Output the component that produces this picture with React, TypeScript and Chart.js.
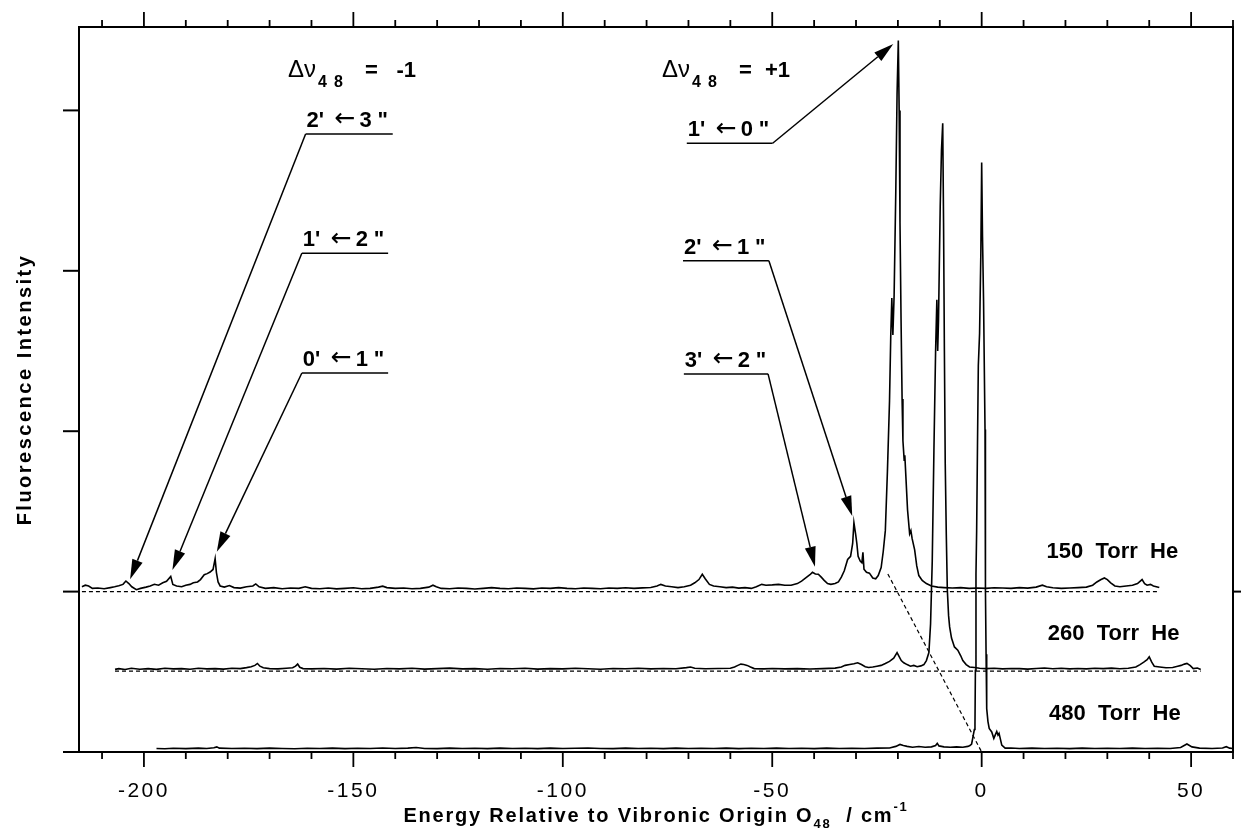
import React, { useEffect, useRef } from 'react';
import { Chart, registerables } from 'chart.js';

Chart.register(...registerables);

// ---------- axes ----------
const X_MIN = -215.5;
const X_MAX = 60;
const Y_MIN = 0;
const Y_MAX = 4.52;
const X_MAJOR_TICKS = [-200, -150, -100, -50, 0, 50];
const X_MINOR_STEP = 10;
const Y_TICKS = [0, 1, 2, 3, 4];
const Y_RIGHT_TICKS = [1];

const X_TITLE_MAIN = 'Energy Relative to Vibronic Origin O';
const X_TITLE_SUB = '48';
const X_TITLE_UNIT = '  / cm';
const X_TITLE_SUP = '-1';
const Y_TITLE = 'Fluorescence Intensity';

// ---------- trace offsets (stacked spectra) ----------
const OFFSET_150 = 1.0;
const OFFSET_260 = 0.504;
const OFFSET_480 = 0.01;

// ---------- spectra: [energy / cm-1, intensity above own baseline] ----------
const SPEC_150: [number, number][] = [
  [-214.8,0.030],[-214.0,0.040],[-213.2,0.035],[-212.3,0.020],[-211.0,0.022],[-209.5,0.018],[-208.0,0.025],[-207.0,0.030],
  [-206.0,0.036],[-205.0,0.045],[-204.3,0.066],[-203.6,0.050],[-202.9,0.030],[-201.8,0.012],[-200.8,0.020],[-199.5,0.028],
  [-198.5,0.035],[-197.5,0.046],[-196.5,0.040],[-195.5,0.055],[-194.6,0.064],[-193.6,0.095],[-193.1,0.045],[-192.2,0.035],
  [-191.0,0.030],[-190.0,0.040],[-189.0,0.045],[-188.2,0.055],[-187.2,0.060],[-186.5,0.075],[-185.6,0.105],[-184.9,0.112],
  [-184.2,0.122],[-183.5,0.138],[-183.0,0.205],[-182.7,0.120],[-182.3,0.060],[-181.8,0.035],[-180.8,0.028],[-179.6,0.038],
  [-178.5,0.025],[-177.0,0.022],[-175.5,0.030],[-174.0,0.035],[-173.3,0.048],[-172.5,0.030],[-171.0,0.020],[-169.0,0.025],
  [-167.0,0.018],[-165.0,0.022],[-163.0,0.020],[-161.5,0.030],[-160.0,0.020],[-158.0,0.018],[-156.0,0.022],[-154.0,0.017],
  [-152.0,0.020],[-150.0,0.024],[-148.0,0.018],[-146.0,0.020],[-144.0,0.028],[-143.0,0.034],[-142.0,0.025],[-140.0,0.020],
  [-138.0,0.022],[-136.0,0.018],[-134.0,0.020],[-132.0,0.028],[-131.0,0.040],[-130.2,0.030],[-129.0,0.020],[-127.0,0.018],
  [-125.0,0.022],[-123.0,0.020],[-121.0,0.016],[-119.0,0.020],[-117.0,0.025],[-115.0,0.020],[-113.0,0.018],[-111.0,0.022],
  [-109.0,0.020],[-107.0,0.017],[-105.0,0.022],[-103.0,0.020],[-101.0,0.025],[-99.0,0.020],[-97.0,0.018],[-95.0,0.022],
  [-93.0,0.020],[-91.0,0.018],[-89.0,0.022],[-87.0,0.020],[-85.0,0.024],[-83.0,0.020],[-81.0,0.023],[-79.0,0.026],
  [-77.5,0.035],[-76.6,0.045],[-75.5,0.035],[-74.0,0.030],[-72.5,0.025],[-71.0,0.030],[-69.5,0.040],[-68.5,0.055],
  [-67.5,0.075],[-66.7,0.108],[-66.0,0.080],[-65.0,0.045],[-64.0,0.035],[-62.5,0.030],[-61.0,0.025],[-59.5,0.028],
  [-58.0,0.022],[-56.5,0.025],[-55.0,0.020],[-53.8,0.030],[-52.5,0.045],[-51.5,0.040],[-50.0,0.042],[-48.5,0.045],
  [-47.0,0.040],[-45.5,0.040],[-44.0,0.050],[-43.0,0.065],[-42.0,0.085],[-41.0,0.105],[-40.4,0.120],[-39.7,0.110],
  [-39.0,0.108],[-38.3,0.090],[-37.6,0.070],[-36.8,0.050],[-36.0,0.045],[-35.0,0.050],[-34.2,0.060],[-33.5,0.090],
  [-32.8,0.130],[-32.0,0.200],[-31.3,0.220],[-30.8,0.300],[-30.5,0.430],[-30.1,0.360],[-29.8,0.300],[-29.5,0.220],
  [-29.0,0.190],[-28.6,0.180],[-28.35,0.245],[-28.1,0.140],[-27.5,0.120],[-26.8,0.115],[-26.0,0.085],[-25.3,0.080],
  [-24.7,0.100],[-24.0,0.150],[-23.5,0.250],[-23.0,0.380],[-22.5,0.750],[-22.0,1.190],[-21.7,1.600],[-21.45,1.830],
  [-21.2,1.600],[-20.9,1.850],[-20.5,2.500],[-20.2,3.100],[-19.9,3.435],[-19.7,3.000],[-19.5,2.300],[-19.25,1.700],
  [-19.0,1.200],[-18.8,0.940],[-18.5,0.820],[-18.35,0.850],[-18.1,0.720],[-17.7,0.510],[-17.2,0.360],[-16.9,0.380],
  [-16.6,0.330],[-16.0,0.260],[-15.5,0.160],[-15.0,0.100],[-14.2,0.070],[-13.2,0.050],[-12.0,0.035],[-10.5,0.028],
  [-9.0,0.025],[-7.0,0.022],[-5.0,0.025],[-3.0,0.020],[-1.0,0.022],[1.0,0.020],[3.0,0.024],[5.0,0.022],
  [7.0,0.020],[9.0,0.025],[11.0,0.022],[13.0,0.028],[14.5,0.040],[15.5,0.030],[17.0,0.024],[19.0,0.020],
  [21.0,0.022],[23.0,0.025],[25.0,0.028],[26.5,0.040],[27.5,0.060],[28.5,0.075],[29.3,0.085],[30.0,0.075],
  [30.8,0.055],[31.8,0.035],[33.0,0.030],[34.5,0.035],[36.0,0.040],[37.2,0.050],[38.3,0.075],[38.9,0.050],
  [39.5,0.040],[40.3,0.045],[41.0,0.035],[42.4,0.025],
];

const SPEC_260: [number, number][] = [
  [-206.9,0.011],[-206.0,0.016],[-204.5,0.010],[-203.0,0.018],[-201.0,0.012],[-199.0,0.016],[-197.0,0.011],[-195.0,0.018],
  [-193.0,0.014],[-191.0,0.016],[-189.0,0.012],[-187.0,0.018],[-185.0,0.014],[-183.0,0.016],[-181.0,0.013],[-179.0,0.018],
  [-177.0,0.016],[-175.5,0.022],[-174.4,0.028],[-173.5,0.036],[-172.9,0.048],[-172.3,0.031],[-171.5,0.021],[-170.0,0.016],
  [-168.0,0.014],[-166.0,0.018],[-164.5,0.021],[-163.8,0.031],[-163.3,0.044],[-162.8,0.024],[-162.0,0.016],[-160.0,0.014],
  [-157.0,0.017],[-154.0,0.013],[-151.0,0.018],[-148.0,0.015],[-145.0,0.012],[-142.0,0.017],[-139.0,0.014],[-136.0,0.018],
  [-133.0,0.013],[-130.0,0.016],[-127.0,0.019],[-124.0,0.014],[-121.0,0.016],[-118.0,0.012],[-115.0,0.017],[-112.0,0.015],
  [-109.0,0.018],[-106.0,0.013],[-103.0,0.016],[-100.0,0.014],[-97.0,0.018],[-94.0,0.015],[-91.0,0.012],[-88.0,0.017],
  [-85.0,0.015],[-82.0,0.018],[-79.0,0.014],[-76.0,0.017],[-73.0,0.015],[-70.5,0.022],[-69.5,0.026],[-68.5,0.018],
  [-66.0,0.015],[-63.0,0.017],[-60.0,0.018],[-59.0,0.026],[-58.2,0.036],[-57.5,0.044],[-56.8,0.041],[-56.0,0.036],
  [-55.2,0.026],[-54.3,0.016],[-52.0,0.014],[-50.0,0.017],[-47.0,0.014],[-44.0,0.016],[-41.0,0.013],[-38.0,0.016],
  [-35.0,0.019],[-33.5,0.026],[-32.6,0.036],[-31.5,0.041],[-30.5,0.046],[-29.6,0.052],[-28.7,0.041],[-27.8,0.028],
  [-27.0,0.023],[-26.0,0.026],[-25.0,0.031],[-24.0,0.036],[-23.0,0.048],[-22.0,0.061],[-21.0,0.081],[-20.2,0.116],
  [-19.7,0.091],[-19.2,0.066],[-18.6,0.052],[-17.8,0.041],[-17.0,0.031],[-16.2,0.036],[-15.4,0.028],[-14.5,0.033],
  [-13.8,0.041],[-13.2,0.066],[-12.6,0.116],[-12.2,0.296],[-11.8,0.686],[-11.4,1.376],[-11.0,1.996],[-10.7,2.316],
  [-10.5,1.996],[-10.3,2.196],[-9.9,2.896],[-9.6,3.246],[-9.3,3.416],[-9.1,2.796],[-8.9,1.996],[-8.7,1.296],
  [-8.45,0.856],[-8.2,0.506],[-7.9,0.346],[-7.65,0.276],[-7.2,0.206],[-6.5,0.151],[-5.7,0.131],[-5.0,0.096],
  [-4.5,0.066],[-3.7,0.041],[-2.9,0.026],[-1.7,0.023],[-0.5,0.018],[1.0,0.016],[3.0,0.018],[5.0,0.014],
  [7.0,0.017],[9.0,0.016],[11.0,0.013],[13.0,0.017],[15.0,0.020],[17.0,0.015],[19.0,0.018],[21.0,0.014],
  [23.0,0.017],[25.0,0.014],[27.0,0.018],[29.0,0.016],[31.0,0.019],[33.0,0.015],[35.0,0.018],[36.8,0.026],
  [37.8,0.041],[38.7,0.056],[39.5,0.071],[40.0,0.089],[40.6,0.056],[41.2,0.031],[42.5,0.026],[44.0,0.021],
  [45.6,0.023],[46.8,0.031],[47.6,0.036],[48.4,0.044],[49.0,0.048],[49.8,0.034],[50.5,0.016],[51.5,0.020],
  [52.3,0.011],
];

const SPEC_480: [number, number][] = [
  [-197.0,0.012],[-195.0,0.010],[-193.0,0.013],[-190.0,0.011],[-187.0,0.014],[-185.0,0.012],[-183.3,0.016],[-182.6,0.022],
  [-182.0,0.014],[-179.0,0.012],[-176.0,0.013],[-173.0,0.011],[-170.0,0.014],[-167.0,0.012],[-164.0,0.010],[-161.0,0.013],
  [-158.0,0.012],[-155.0,0.014],[-152.0,0.011],[-149.0,0.013],[-146.0,0.012],[-143.0,0.015],[-140.0,0.012],[-137.0,0.014],
  [-135.0,0.018],[-133.0,0.012],[-130.0,0.011],[-127.0,0.014],[-124.0,0.012],[-121.0,0.013],[-118.0,0.011],[-115.0,0.014],
  [-112.0,0.012],[-109.0,0.013],[-106.0,0.011],[-103.0,0.014],[-100.0,0.012],[-97.0,0.013],[-94.0,0.015],[-91.0,0.012],
  [-88.0,0.011],[-85.0,0.014],[-82.0,0.012],[-79.0,0.013],[-76.0,0.011],[-73.0,0.014],[-70.0,0.012],[-67.0,0.013],
  [-64.0,0.012],[-61.0,0.014],[-58.0,0.011],[-55.0,0.013],[-52.0,0.012],[-49.0,0.014],[-46.0,0.012],[-43.0,0.013],
  [-40.0,0.011],[-37.0,0.014],[-34.0,0.012],[-31.0,0.013],[-28.0,0.012],[-25.0,0.014],[-22.0,0.015],[-20.5,0.025],
  [-19.5,0.037],[-18.7,0.030],[-17.8,0.025],[-16.5,0.020],[-15.0,0.024],[-13.5,0.020],[-12.0,0.022],[-11.0,0.030],
  [-10.6,0.044],[-10.2,0.028],[-9.0,0.022],[-7.5,0.020],[-6.0,0.022],[-4.5,0.020],[-3.3,0.025],[-2.8,0.030],
  [-2.4,0.040],[-2.0,0.095],[-1.75,0.130],[-1.6,0.160],[-1.5,0.500],[-1.36,1.100],[-1.2,1.370],[-1.0,1.900],
  [-0.8,2.400],[-0.5,2.600],[-0.2,3.100],[0.0,3.665],[0.2,3.200],[0.45,2.800],[0.8,2.000],[0.9,1.000],
  [1.05,0.600],[1.2,0.260],[1.5,0.180],[1.8,0.137],[2.4,0.115],[2.9,0.075],[3.3,0.100],[3.6,0.118],
  [3.9,0.095],[4.15,0.106],[4.8,0.033],[5.6,0.014],[7.0,0.015],[9.0,0.012],[12.0,0.014],[15.0,0.012],
  [18.0,0.013],[21.0,0.011],[24.0,0.014],[27.0,0.012],[30.0,0.013],[33.0,0.012],[36.0,0.014],[39.0,0.012],
  [42.0,0.013],[45.0,0.012],[47.5,0.018],[49.0,0.040],[50.2,0.022],[52.0,0.014],[55.0,0.012],[57.5,0.015],
  [58.4,0.023],[59.2,0.014],[60.0,0.012],
];

// ---------- reference (dashed) lines ----------
const BASE_150_RANGE = [-214.8, 42.4];
const BASE_260_RANGE = [-206.9, 52.3];
const SHIFT_LINE: [number, number][] = [[-22.4, 1.11], [0, 0]];

// ---------- annotations ----------
const TRACE_LABELS = ['150  Torr  He', '260  Torr  He', '480  Torr  He'];
const TRACE_LABEL_POS: [number, number][] = [[31.2, 1.249], [31.5, 0.736], [31.8, 0.237]];

const HEADINGS = ['-1', '+1'];
const HEADING_POS: [number, number][] = [[-165.6, 4.208], [-76.3, 4.208]];

// transition labels: upper level, lower level
const TRANSITION_UPPER = ["2'", "1'", "0'", "1'", "2'", "3'"];
const TRANSITION_LOWER = ['3', '2', '1', '0', '1', '2'];
// underline [x1, x2, y]
const TRANSITION_UNDERLINE: [number, number, number][] = [
  [-161.4, -140.6, 3.853], [-162.3, -141.7, 3.109], [-162.3, -141.7, 2.363],
  [-70.4, -49.9, 3.795], [-71.3, -50.8, 3.063], [-71.1, -51.0, 2.357],
];
const TRANSITION_FROM_LEFT = [true, true, true, false, false, false];
const TRANSITION_TIP: [number, number][] = [
  [-203.3, 1.077], [-193.2, 1.135], [-182.6, 1.249],
  [-21.1, 4.414], [-30.9, 1.471], [-39.8, 1.155],
];

const FONT = '"Liberation Sans", Arial, Helvetica, sans-serif';
const SYMBOL_FONT = '"DejaVu Sans", sans-serif';

function drawArrow(ctx: CanvasRenderingContext2D, x1: number, y1: number, x2: number, y2: number) {
  const len = 20;
  const half = 5.5;
  const ang = Math.atan2(y2 - y1, x2 - x1);
  const bx = x2 - len * Math.cos(ang);
  const by = y2 - len * Math.sin(ang);
  ctx.beginPath();
  ctx.moveTo(x1, y1);
  ctx.lineTo(bx, by);
  ctx.stroke();
  ctx.beginPath();
  ctx.moveTo(x2, y2);
  ctx.lineTo(bx + half * Math.sin(ang), by - half * Math.cos(ang));
  ctx.lineTo(bx - half * Math.sin(ang), by + half * Math.cos(ang));
  ctx.closePath();
  ctx.fill();
}

const decorPlugin = {
  id: 'decor',
  beforeDraw(chart: any) {
    chart.ctx.letterSpacing = '2.5px';
  },
  beforeDatasetsDraw(chart: any) {
    chart.ctx.letterSpacing = '0px';
  },
  afterDraw(chart: any) {
    const ctx: CanvasRenderingContext2D = chart.ctx;
    const ca = chart.chartArea;
    const xs = chart.scales.x;
    const ys = chart.scales.y;
    const px = (v: number) => xs.getPixelForValue(v);
    const py = (v: number) => ys.getPixelForValue(v);
    ctx.save();
    ctx.strokeStyle = '#000';
    ctx.fillStyle = '#000';
    (ctx as any).letterSpacing = '0px';

    // frame
    ctx.lineWidth = 2;
    ctx.strokeRect(ca.left, ca.top, ca.right - ca.left, ca.bottom - ca.top);

    // x ticks (bottom outward, top outward)
    ctx.lineWidth = 1.8;
    for (let v = Math.ceil(X_MIN / X_MINOR_STEP) * X_MINOR_STEP; v <= X_MAX; v += X_MINOR_STEP) {
      const L = X_MAJOR_TICKS.includes(v) ? 15 : 7;
      const xp = px(v);
      ctx.beginPath();
      ctx.moveTo(xp, ca.bottom);
      ctx.lineTo(xp, ca.bottom + L);
      ctx.moveTo(xp, ca.top);
      ctx.lineTo(xp, ca.top - L);
      ctx.stroke();
    }
    // y ticks
    ctx.lineWidth = 2;
    Y_TICKS.forEach((v) => {
      const yp = py(v);
      ctx.beginPath();
      ctx.moveTo(ca.left - 16, yp);
      ctx.lineTo(ca.left, yp);
      ctx.stroke();
    });
    Y_RIGHT_TICKS.forEach((v) => {
      const yp = py(v);
      ctx.beginPath();
      ctx.moveTo(ca.right, yp);
      ctx.lineTo(ca.right + 8, yp);
      ctx.stroke();
    });

    // headings  Δν48 = ±1
    ctx.textBaseline = 'alphabetic';
    HEADINGS.forEach((sign, i) => {
      const x0 = px(HEADING_POS[i][0]);
      const yb = py(HEADING_POS[i][1]);
      ctx.textAlign = 'left';
      ctx.font = `24px ${FONT}`;
      ctx.fillText('\u0394\u03bd', x0, yb);
      ctx.font = `bold 16px ${FONT}`;
      ctx.fillText('4', x0 + 30, yb + 10);
      ctx.fillText('8', x0 + 46, yb + 10);
      ctx.font = `bold 22px ${FONT}`;
      ctx.fillText('=', x0 + 77, yb);
      ctx.textAlign = 'right';
      ctx.fillText(sign, x0 + 128, yb);
    });
    ctx.textAlign = 'left';

    // transition labels with underline and arrow
    TRANSITION_UPPER.forEach((up, i) => {
      const [u1, u2, uy] = TRANSITION_UNDERLINE[i];
      const x1 = px(u1);
      const x2 = px(u2);
      const yU = py(uy);
      const tb = yU - 7;
      ctx.font = `bold 22px ${FONT}`;
      ctx.fillText(up, x1 + 1, tb);
      ctx.fillText(TRANSITION_LOWER[i], x1 + 54, tb);
      ctx.fillText('"', x1 + 72, tb);
      ctx.font = `25px ${SYMBOL_FONT}`;
      ctx.fillText('\u2190', x1 + 29, tb - 0.5);
      ctx.lineWidth = 1.6;
      ctx.beginPath();
      ctx.moveTo(x1, yU);
      ctx.lineTo(x2, yU);
      ctx.stroke();
      const sx = TRANSITION_FROM_LEFT[i] ? x1 : x2;
      ctx.lineWidth = 1.5;
      drawArrow(ctx, sx, yU, px(TRANSITION_TIP[i][0]), py(TRANSITION_TIP[i][1]));
    });

    // trace labels
    ctx.font = `bold 22px ${FONT}`;
    ctx.textBaseline = 'middle';
    TRACE_LABELS.forEach((t, i) => {
      const w = ctx.measureText(t).width;
      ctx.fillText(t, px(TRACE_LABEL_POS[i][0]) - w / 2, py(TRACE_LABEL_POS[i][1]));
    });

    // x axis title with subscript / superscript
    ctx.textBaseline = 'alphabetic';
    (ctx as any).letterSpacing = '1.8px';
    const big = `bold 20px ${FONT}`;
    const small = `bold 13px ${FONT}`;
    const parts: [string, string, number][] = [
      [X_TITLE_MAIN, big, 0],
      [X_TITLE_SUB, small, 6],
      [X_TITLE_UNIT, big, 0],
      [X_TITLE_SUP, small, -11],
    ];
    let total = 0;
    parts.forEach(([t, f]) => { ctx.font = f; total += ctx.measureText(t).width; });
    let cx = (ca.left + ca.right) / 2 - total / 2;
    const baseY = ca.bottom + 70;
    parts.forEach(([t, f, dy]) => {
      ctx.font = f;
      ctx.fillText(t, cx, baseY + dy);
      cx += ctx.measureText(t).width;
    });

    ctx.restore();
  },
};

export default function App() {
  const canvasRef = useRef<HTMLCanvasElement | null>(null);

  useEffect(() => {
    const canvas = canvasRef.current;
    if (!canvas) return;
    const line = (pts: [number, number][], off: number) => pts.map(([x, v]) => ({ x, y: v + off }));
    const solid = { borderColor: '#000', borderWidth: 1.6, pointRadius: 0, fill: false, tension: 0 };
    const dashed = { borderColor: '#000', borderWidth: 1.2, borderDash: [4, 3], pointRadius: 0, fill: false, tension: 0 };

    const chart = new Chart(canvas, {
      type: 'line',
      data: {
        datasets: [
          { label: 'baseline 150', data: BASE_150_RANGE.map((x) => ({ x, y: OFFSET_150 })), ...dashed },
          { label: 'baseline 260', data: BASE_260_RANGE.map((x) => ({ x, y: OFFSET_260 })), ...dashed },
          { label: 'shift', data: SHIFT_LINE.map(([x, y]) => ({ x, y })), ...dashed },
          { label: '150 Torr He', data: line(SPEC_150, OFFSET_150), ...solid },
          { label: '260 Torr He', data: line(SPEC_260, OFFSET_260), ...solid },
          { label: '480 Torr He', data: line(SPEC_480, OFFSET_480), ...solid },
        ] as any,
      },
      options: {
        animation: false,
        responsive: false,
        devicePixelRatio: 1,
        layout: { padding: { top: 27, right: 9, left: 0, bottom: 0 } },
        plugins: { legend: { display: false }, tooltip: { enabled: false }, title: { display: false } },
        scales: {
          x: {
            type: 'linear',
            position: 'bottom',
            min: X_MIN,
            max: X_MAX,
            grid: { display: false, drawTicks: false },
            border: { display: false },
            afterFit: (s: any) => { s.height = 79; },
            afterBuildTicks: (s: any) => { s.ticks = X_MAJOR_TICKS.map((value) => ({ value })); },
            ticks: {
              color: '#000',
              font: { family: FONT, size: 21 },
              padding: 27,
              maxRotation: 0,
              autoSkip: false,
            },
          },
          y: {
            type: 'linear',
            min: Y_MIN,
            max: Y_MAX,
            grid: { display: false, drawTicks: false },
            border: { display: false },
            ticks: { display: false },
            afterFit: (s: any) => { s.width = 79; },
            title: {
              display: true,
              text: Y_TITLE,
              color: '#000',
              font: { family: FONT, size: 20, weight: 'bold' },
              padding: { top: 13, bottom: 0 },
            },
          },
        },
      } as any,
      plugins: [decorPlugin],
    });
    return () => chart.destroy();
  }, []);

  return (
    <div style={{ position: 'absolute', left: 0, top: 0, width: 1242, height: 831, background: '#fff' }}>
      <canvas ref={canvasRef} width={1242} height={831} />
    </div>
  );
}
